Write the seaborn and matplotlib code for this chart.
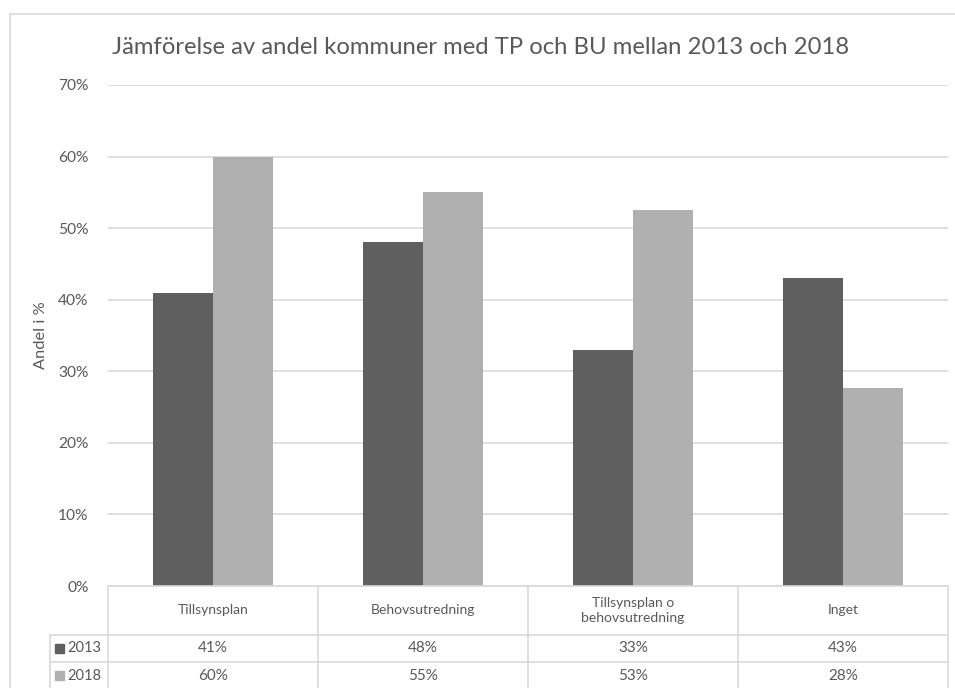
import numpy as np
import pandas as pd
import seaborn as sns
import matplotlib.pyplot as plt
from matplotlib.patches import Rectangle
from matplotlib.lines import Line2D

# data
categories = ['Tillsynsplan', 'Behovsutredning', 'Tillsynsplan o\nbehovsutredning', 'Inget']
years = ['2013', '2018']
values_2013 = [41, 48, 33, 43]
values_2018 = [60, 55, 52.6, 27.6]
colors = ['#5f5f5f', '#b0b0b0']
title = 'Jämförelse av andel kommuner med TP och BU mellan 2013 och 2018'

df = pd.DataFrame({
    'kategori': categories * 2,
    'år': [years[0]] * 4 + [years[1]] * 4,
    'andel': values_2013 + values_2018,
})

sns.set_theme(style='white')
plt.rcParams['font.family'] = ['Lato', 'DejaVu Sans']
txt = '#595959'
grid = '#d9d9d9'

W, H = 955, 688
fig = plt.figure(figsize=(W / 100, H / 100), dpi=100)
fig.patch.set_facecolor('white')

# pixel helpers (layout only)
def fx(x): return x / W
def fy(y): return 1 - y / H

# outer chart frame
fig.add_artist(Rectangle((fx(10), fy(700)), fx(960), fy(14) - fy(700), transform=fig.transFigure,
                         fill=False, edgecolor=grid, lw=1.2))

left, right, top, bottom = 108, 948, 85, 586
ax = fig.add_axes([fx(left), fy(bottom), fx(right - left), fy(top) - fy(bottom)])
sns.barplot(data=df, x='kategori', y='andel', hue='år', palette=colors, width=120 / 210,
            gap=0, ax=ax, legend=False, edgecolor='none', saturation=1)
ax.set_xlim(-0.5, 3.5)
ax.set_ylim(0, 70)
ax.set_yticks(range(0, 71, 10))
ax.set_yticklabels([f'{t}%' for t in range(0, 71, 10)], color=txt, fontsize=11.2)
ax.tick_params(axis='y', length=0, pad=14)
ax.set_xticks([])
ax.set_xlabel('')
ax.set_ylabel('Andel i %', color=txt, fontsize=11.8, labelpad=7)
ax.yaxis.grid(True, color=grid, lw=1.2)
ax.set_axisbelow(True)
for s in ax.spines.values():
    s.set_visible(False)

fig.text(fx(481), fy(47), title, ha='center', va='center', fontsize=17.2, color=txt)

# data table under the plot
row_edges = [586, 635, 662, 689]
col_edges = np.linspace(left, right, len(categories) + 1)
leg_x = 50
lines = []
lines.append(((left, right), (row_edges[0], row_edges[0])))
for y in row_edges[1:]:
    lines.append(((leg_x, right), (y, y)))
for x in col_edges:
    lines.append(((x, x), (row_edges[0], H)))
lines.append(((leg_x, leg_x), (row_edges[1], H)))
for xs, ys in lines:
    fig.add_artist(Line2D([fx(v) for v in xs], [fy(v) for v in ys], transform=fig.transFigure,
                          color=grid, lw=1.2))

for i, cat in enumerate(categories):
    cx = (col_edges[i] + col_edges[i + 1]) / 2
    fig.text(fx(cx), fy((row_edges[0] + row_edges[1]) / 2), cat, ha='center', va='center',
             fontsize=10, color=txt, linespacing=1.35)
    for r, vals in enumerate([values_2013, values_2018]):
        fig.text(fx(cx), fy((row_edges[r + 1] + row_edges[r + 2]) / 2), f'{round(vals[i])}%',
                 ha='center', va='center', fontsize=11, color=txt)

for r, yr in enumerate(years):
    cy = (row_edges[r + 1] + row_edges[r + 2]) / 2
    fig.add_artist(Rectangle((fx(55), fy(cy + 4.5)), fx(9), fy(cy - 4.5) - fy(cy + 4.5),
                             transform=fig.transFigure, color=colors[r]))
    fig.text(fx(67), fy(cy), yr, ha='left', va='center', fontsize=10.5, color=txt)

fig.savefig('out.png', dpi=100)
